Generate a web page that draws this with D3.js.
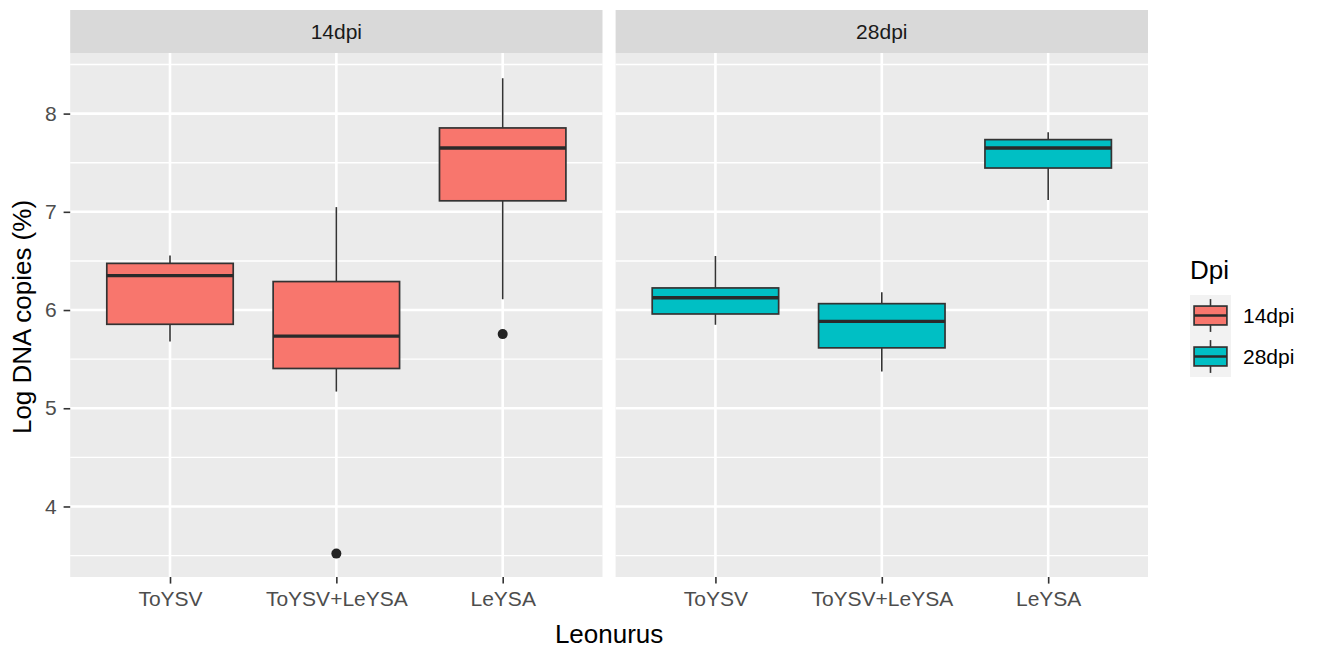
<!DOCTYPE html>
<html>
<head>
<meta charset="utf-8">
<script src="https://cdn.jsdelivr.net/npm/d3@7"></script>
<style>
  html, body { margin: 0; padding: 0; background: #ffffff; }
  svg { display: block; font-family: "Liberation Sans", Arial, sans-serif; }
</style>
</head>
<body>
<svg id="chart" width="1319" height="651"></svg>
<script>
// ---------- data ----------
const categories = ["ToYSV", "ToYSV+LeYSA", "LeYSA"];
const facets = ["14dpi", "28dpi"];
const yTicks = [4, 5, 6, 7, 8];
const yMinor = [3.5, 4.5, 5.5, 6.5, 7.5, 8.5];

// 14dpi box statistics (per category)
const lower14  = [5.68, 5.17, 6.11];
const q1_14    = [5.855, 5.405, 7.112];
const median14 = [6.35, 5.735, 7.65];
const q3_14    = [6.475, 6.29, 7.854];
const upper14  = [6.555, 7.048, 8.36];
const outliers14 = [[], [3.52], [5.755]];

// 28dpi box statistics (per category)
const lower28  = [5.85, 5.375, 7.12];
const q1_28    = [5.96, 5.615, 7.446];
const median28 = [6.125, 5.885, 7.65];
const q3_28    = [6.225, 6.065, 7.735];
const upper28  = [6.55, 6.18, 7.81];
const outliers28 = [[], [], []];

const fillColors = ["#F8766D", "#00BFC4"];

// ---------- layout ----------
const svg = d3.select("#chart");
const panelTop = 53, panelBottom = 577;
const stripTop = 10;
const panels = [
  { x0: 70.2, x1: 602.5 },
  { x0: 615.6, x1: 1148 }
];

const stats = [
  { lower: lower14, q1: q1_14, med: median14, q3: q3_14, upper: upper14, out: outliers14 },
  { lower: lower28, q1: q1_28, med: median28, q3: q3_28, upper: upper28, out: outliers28 }
];

const y = d3.scaleLinear().domain([3.282, 8.617]).range([panelBottom, panelTop]);

const lineCol = "#333333";

facets.forEach((facet, fi) => {
  const p = panels[fi];
  const x = d3.scalePoint().domain(categories).range([p.x0, p.x1]).padding(0.6);
  const step = x.step();
  const bw = step * 0.76;
  const g = svg.append("g");

  // panel background
  g.append("rect").attr("x", p.x0).attr("y", panelTop)
    .attr("width", p.x1 - p.x0).attr("height", panelBottom - panelTop)
    .attr("fill", "#EBEBEB");

  // minor grid
  g.selectAll(".minor").data(yMinor).enter().append("line")
    .attr("x1", p.x0).attr("x2", p.x1)
    .attr("y1", d => y(d)).attr("y2", d => y(d))
    .attr("stroke", "#ffffff").attr("stroke-width", 1.4);

  // major grid
  g.selectAll(".major").data(yTicks).enter().append("line")
    .attr("x1", p.x0).attr("x2", p.x1)
    .attr("y1", d => y(d)).attr("y2", d => y(d))
    .attr("stroke", "#ffffff").attr("stroke-width", 2.6);
  g.selectAll(".vmajor").data(categories).enter().append("line")
    .attr("x1", d => x(d)).attr("x2", d => x(d))
    .attr("y1", panelTop).attr("y2", panelBottom)
    .attr("stroke", "#ffffff").attr("stroke-width", 2.6);

  // strip
  g.append("rect").attr("x", p.x0).attr("y", stripTop)
    .attr("width", p.x1 - p.x0).attr("height", panelTop - stripTop)
    .attr("fill", "#D9D9D9");
  g.append("text").attr("x", (p.x0 + p.x1) / 2).attr("y", 39)
    .attr("text-anchor", "middle").attr("font-size", 21).attr("fill", "#1A1A1A")
    .text(facet);

  // boxes
  const s = stats[fi];
  categories.forEach((c, i) => {
    const cx = x(c);
    // whiskers
    g.append("line").attr("x1", cx).attr("x2", cx)
      .attr("y1", y(s.upper[i])).attr("y2", y(s.q3[i]))
      .attr("stroke", lineCol).attr("stroke-width", 1.6);
    g.append("line").attr("x1", cx).attr("x2", cx)
      .attr("y1", y(s.q1[i])).attr("y2", y(s.lower[i]))
      .attr("stroke", lineCol).attr("stroke-width", 1.6);
    // box
    g.append("rect").attr("x", cx - bw / 2).attr("y", y(s.q3[i]))
      .attr("width", bw).attr("height", y(s.q1[i]) - y(s.q3[i]))
      .attr("fill", fillColors[fi]).attr("stroke", lineCol).attr("stroke-width", 1.7);
    // median
    g.append("line").attr("x1", cx - bw / 2).attr("x2", cx + bw / 2)
      .attr("y1", y(s.med[i])).attr("y2", y(s.med[i]))
      .attr("stroke", "#2a2a2a").attr("stroke-width", 3.3);
    // outliers
    s.out[i].forEach(v => {
      g.append("circle").attr("cx", cx).attr("cy", y(v)).attr("r", 5)
        .attr("fill", "#222222");
    });
  });

  // x axis
  const xAxis = d3.axisBottom(x).tickSize(6.6).tickPadding(7);
  const ax = g.append("g").attr("transform", `translate(0,${panelBottom})`).call(xAxis);
  ax.select(".domain").remove();
  ax.selectAll(".tick line").attr("stroke", lineCol).attr("stroke-width", 1.6);
  ax.selectAll(".tick text").attr("font-size", 21).attr("fill", "#4D4D4D")
    .attr("font-family", "Liberation Sans, Arial, sans-serif");

  if (fi === 0) {
    const yAxis = d3.axisLeft(y).tickValues(yTicks).tickFormat(d3.format("d"))
      .tickSize(6.6).tickPadding(7);
    const ay = g.append("g").attr("transform", `translate(${p.x0},0)`).call(yAxis);
    ay.select(".domain").remove();
    ay.selectAll(".tick line").attr("stroke", lineCol).attr("stroke-width", 1.6);
    ay.selectAll(".tick text").attr("font-size", 21).attr("fill", "#4D4D4D")
      .attr("font-family", "Liberation Sans, Arial, sans-serif");
  }
});

// axis titles
svg.append("text").attr("x", (panels[0].x0 + panels[1].x1) / 2).attr("y", 643)
  .attr("text-anchor", "middle").attr("font-size", 26).attr("fill", "#000")
  .text("Leonurus");
svg.append("text")
  .attr("transform", `translate(31,${(panelTop + panelBottom) / 2 + 2}) rotate(-90)`)
  .attr("text-anchor", "middle").attr("font-size", 26).attr("fill", "#000")
  .text("Log DNA copies (%)");

// legend
const lg = svg.append("g");
const lx = 1190, ly0 = 295, ks = 41;
lg.append("text").attr("x", lx).attr("y", 279).attr("font-size", 26).attr("fill", "#000").text("Dpi");
facets.forEach((f, i) => {
  const ky = ly0 + i * ks;
  lg.append("rect").attr("x", lx).attr("y", ky).attr("width", ks).attr("height", ks).attr("fill", "#F2F2F2");
  const cx = lx + ks / 2;
  lg.append("line").attr("x1", cx).attr("x2", cx).attr("y1", ky + ks * 0.1).attr("y2", ky + ks * 0.9)
    .attr("stroke", lineCol).attr("stroke-width", 1.6);
  lg.append("rect").attr("x", lx + ks * 0.1).attr("y", ky + ks * 0.27)
    .attr("width", ks * 0.8).attr("height", ks * 0.46)
    .attr("fill", fillColors[i]).attr("stroke", lineCol).attr("stroke-width", 1.7);
  lg.append("line").attr("x1", lx + ks * 0.1).attr("x2", lx + ks * 0.9)
    .attr("y1", ky + ks / 2).attr("y2", ky + ks / 2)
    .attr("stroke", "#2a2a2a").attr("stroke-width", 2.6);
  lg.append("text").attr("x", lx + ks + 12).attr("y", ky + ks / 2).attr("dy", "0.36em")
    .attr("font-size", 21).attr("fill", "#000").text(f);
});
</script>
</body>
</html>
